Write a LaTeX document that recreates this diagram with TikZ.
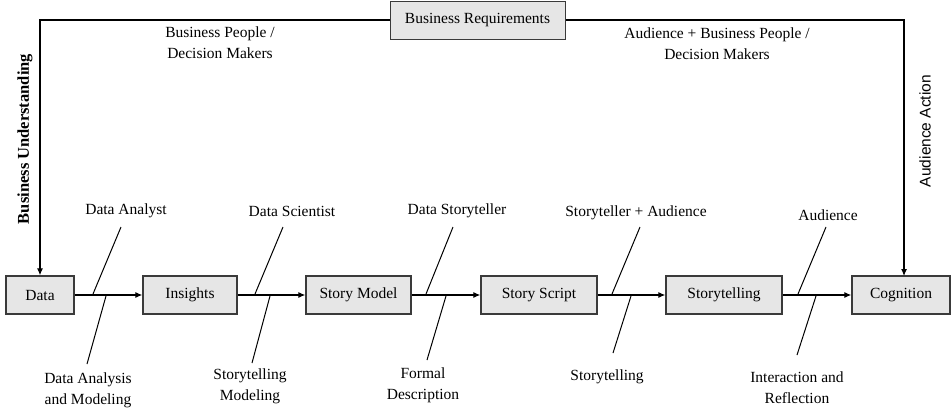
\documentclass[tikz,border=0pt]{standalone}
\usepackage{fontspec}
\setmainfont{Liberation Serif}
\newfontfamily\arialfont{Liberation Sans}
\usetikzlibrary{arrows.meta}
\definecolor{boxfill}{HTML}{E6E6E6}
\definecolor{boxline}{HTML}{3A3A3A}
\begin{document}
\begin{tikzpicture}[x=1pt,y=-1pt,
  procbox/.style={draw=boxline,line width=1.4pt,fill=boxfill,minimum height=38pt,inner sep=0pt,font=\fontsize{15.5}{20}\selectfont},
  flow/.style={line width=1.1pt,-{Latex[length=7pt,width=6pt]}},
  slash/.style={line width=1pt},
  lbl/.style={font=\fontsize{15.5}{21}\selectfont,align=center,inner sep=0pt}]
\useasboundingbox (0,0) rectangle (952,407);
% boxes
\node[procbox,minimum width=68pt]  (data)  at (40,295)    {Data};
\node[procbox,minimum width=94pt]  (ins)   at (190,295)   {Insights};
\node[procbox,minimum width=105pt] (model) at (358.5,295) {Story Model};
\node[procbox,minimum width=116pt] (script) at (539,295)  {Story Script};
\node[procbox,minimum width=116pt] (tell)  at (724,295)   {Storytelling};
\node[procbox,minimum width=98pt]  (cog)   at (901,295)   {Cognition};
\node[procbox,minimum width=175pt,line width=1pt] (req) at (477.5,20) {Business Requirements};
% flow arrows
\draw[flow] (data) -- (ins);
\draw[flow] (ins) -- (model);
\draw[flow] (model) -- (script);
\draw[flow] (script) -- (tell);
\draw[flow] (tell) -- (cog);
% feedback loop
\coordinate (tl) at (40,20);
\coordinate (tr) at (904,20);
\coordinate (cogtop) at (904,276);
\draw[flow] (req.west) -- (tl) -- (data.north);
\draw[flow] (req.east) -- (tr) -- (cogtop);
% rotated labels
\node[rotate=90,font=\fontsize{16.5}{20}\selectfont\bfseries,inner sep=0pt] (bu) at (25,139) {Business Understanding};
\node[rotate=90,font=\arialfont\fontsize{15.5}{20}\selectfont,inner sep=0pt] (aa) at (925,131) {Audience Action};
% top labels
\node[lbl] (bp) at (220,43) {Business People /\\Decision Makers};
\node[lbl] (abp) at (717,44) {Audience + Business People /\\Decision Makers};
% upper role labels and slashes
\node[lbl] (r1) at (126,211) {Data Analyst};
\node[lbl] (r2) at (292,211) {Data Scientist};
\node[lbl] (r3) at (457,211) {Data Storyteller};
\node[lbl] (r4) at (636,213) {Storyteller + Audience};
\node[lbl] (r5) at (828,215) {Audience};
\draw[slash] (121,227) -- (93,294);
\draw[slash] (283,227) -- (255,294);
\draw[slash] (453,227) -- (426,294);
\draw[slash] (640,227) -- (612,294);
\draw[slash] (826,227) -- (798,294);
% lower activity labels and slashes
\draw[slash] (106,296) -- (87,364);
\draw[slash] (270,296) -- (252,363);
\draw[slash] (446,296) -- (427,360);
\draw[slash] (631,296) -- (613,353);
\draw[slash] (816,296) -- (797,355);
\node[lbl] (a1) at (88,390) {Data Analysis\\and Modeling};
\node[lbl] (a2) at (250,386) {Storytelling\\Modeling};
\node[lbl] (a3) at (423,385) {Formal\\Description};
\node[lbl] (a4) at (607,377) {Storytelling};
\node[lbl] (a5) at (797,388) {Interaction and\\Reflection};
\end{tikzpicture}
\end{document}
